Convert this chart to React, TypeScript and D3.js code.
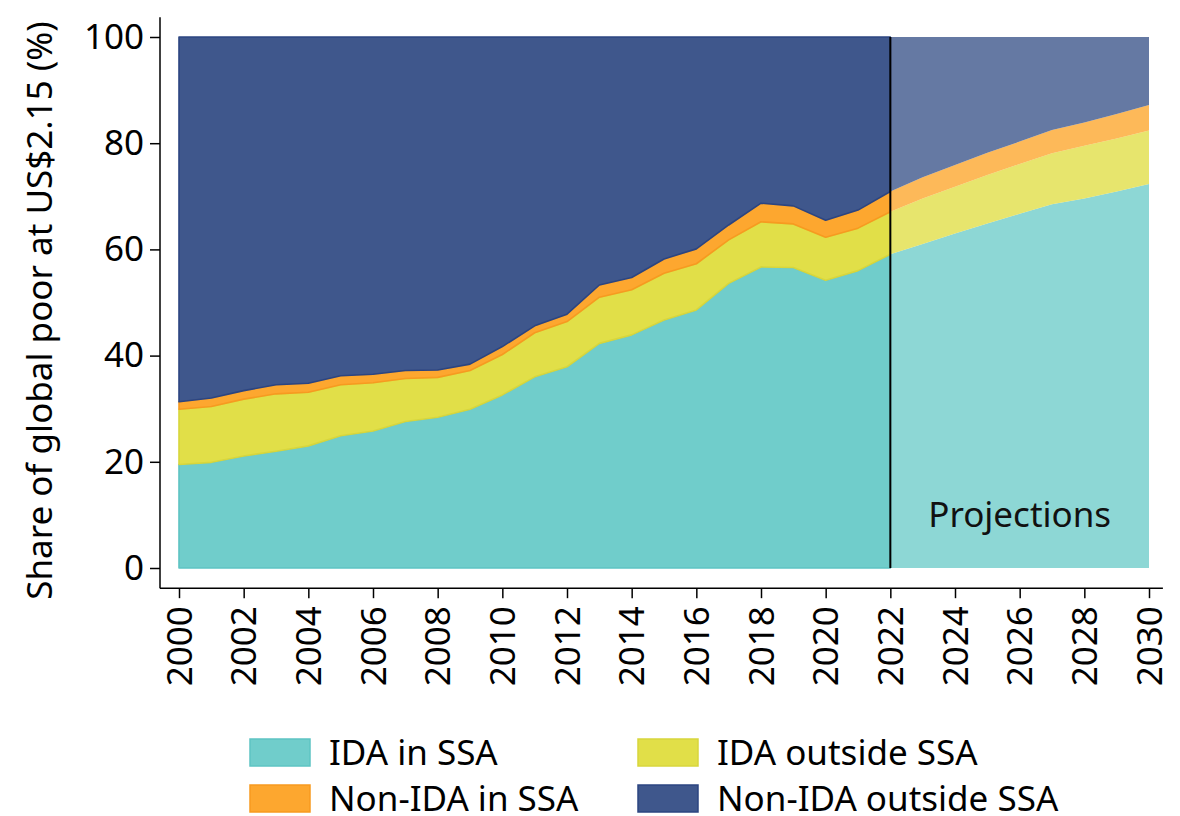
import { useEffect, useRef } from 'react'
import * as d3 from 'd3'

const WIDTH = 1180
const HEIGHT = 816
const FONT = '"Noto Sans", "Open Sans", sans-serif'
const FS = 35

const YEARS = d3.range(2000, 2031)
const LAST_ACTUAL = 2022

// shares of the global poor, %
const IDA_IN_SSA = [
  19.5, 19.9, 21.1, 22.0, 23.0, 24.9, 25.8, 27.6, 28.4, 29.9, 32.6,
  36.0, 37.9, 42.3, 43.9, 46.7, 48.6, 53.6, 56.7, 56.6, 54.2, 56.0,
  59.1, 61.0, 63.0, 64.9, 66.7, 68.5, 69.6, 70.9, 72.3,
]
const IDA_OUTSIDE_SSA = [
  10.4, 10.5, 10.7, 10.8, 10.1, 9.6, 9.1, 8.1, 7.5, 7.3, 7.6,
  8.3, 8.5, 8.7, 8.5, 8.8, 8.7, 8.2, 8.5, 8.2, 8.1, 8.0,
  8.0, 8.6, 8.8, 9.1, 9.4, 9.6, 9.9, 10.0, 10.1,
]
const NONIDA_IN_SSA = [
  1.4, 1.6, 1.6, 1.7, 1.7, 1.7, 1.6, 1.5, 1.4, 1.2, 1.5,
  1.3, 1.4, 2.3, 2.3, 2.7, 2.8, 2.8, 3.5, 3.4, 3.2, 3.4,
  3.8, 4.0, 4.1, 4.2, 4.2, 4.4, 4.4, 4.6, 4.8,
]
const NONIDA_OUTSIDE_SSA = [
  68.7, 68.0, 66.6, 65.5, 65.2, 63.8, 63.5, 62.8, 62.7, 61.6, 58.3,
  54.4, 52.2, 46.7, 45.3, 41.8, 39.9, 35.4, 31.3, 31.8, 34.5, 32.6,
  29.1, 26.4, 24.1, 21.8, 19.7, 17.5, 16.1, 14.5, 12.8,
]

const Y_TICKS = [0, 20, 40, 60, 80, 100]
const X_TICKS = d3.range(2000, 2031, 2)

const SERIES = [
  { key: 'idaIn', label: 'IDA in SSA', values: IDA_IN_SSA, color: '#70CDCB', edge: '#5EC4C3' },
  { key: 'idaOut', label: 'IDA outside SSA', values: IDA_OUTSIDE_SSA, color: '#E1DF48', edge: '#D8D63C' },
  { key: 'nonIn', label: 'Non-IDA in SSA', values: NONIDA_IN_SSA, color: '#FDA72F', edge: '#F79A20' },
  { key: 'nonOut', label: 'Non-IDA outside SSA', values: NONIDA_OUTSIDE_SSA, color: '#3F578C', edge: '#2C4581' },
]

type Row = { year: number } & Record<string, number>

export default function App() {
  const svgRef = useRef<SVGSVGElement>(null)

  useEffect(() => {
    const svg = d3.select(svgRef.current)
    svg.selectAll('*').remove()

    const x = d3.scaleLinear([2000, 2030], [179, 1149])
    const y = d3.scaleLinear([0, 100], [568, 37])

    const rows: Row[] = YEARS.map((year, i) => {
      const r: Row = { year } as Row
      SERIES.forEach(s => { r[s.key] = s.values[i] })
      return r
    })
    const stacked = d3.stack<Row>().keys(SERIES.map(s => s.key))(rows)

    const area = d3.area<d3.SeriesPoint<Row>>()
      .x(d => x(d.data.year))
      .y0(d => y(d[0]))
      .y1(d => y(d[1]))

    // ── Areas: history solid, projections faded ──────────────────────────────
    const gArea = svg.append('g')
    stacked.forEach((layer, i) => {
      const s = SERIES[i]
      const hist = layer.filter(d => d.data.year <= LAST_ACTUAL)
      const proj = layer.filter(d => d.data.year >= LAST_ACTUAL)
      gArea.append('path')
        .attr('d', area(proj))
        .attr('fill', s.color).attr('fill-opacity', 0.8)
      gArea.append('path')
        .attr('d', area(hist))
        .attr('fill', s.color)
        .attr('stroke', s.edge).attr('stroke-width', 1.6).attr('stroke-linejoin', 'round')
    })

    // divider at last observed year
    svg.append('line')
      .attr('x1', x(LAST_ACTUAL)).attr('x2', x(LAST_ACTUAL))
      .attr('y1', y(100)).attr('y2', y(0))
      .attr('stroke', '#000').attr('stroke-width', 2)

    svg.append('text')
      .attr('x', x(2026)).attr('y', y(0) - 41)
      .attr('text-anchor', 'middle')
      .attr('font-family', FONT).attr('font-size', FS).attr('fill', '#111')
      .text('Projections')

    // ── Axes ─────────────────────────────────────────────────────────────────
    const yAxis = svg.append('g')
      .attr('transform', 'translate(160,0)')
      .call(d3.axisLeft(y).tickValues(Y_TICKS).tickSize(10).tickPadding(6))
    yAxis.select('.domain').remove()
    yAxis.selectAll('.tick line').attr('stroke', '#000').attr('stroke-width', 1.5)
    yAxis.selectAll('text')
      .attr('font-family', FONT).attr('font-size', FS).attr('fill', '#000')
    yAxis.append('line')
      .attr('x1', 0).attr('x2', 0).attr('y1', y(103.7)).attr('y2', y(-3.8))
      .attr('stroke', '#000').attr('stroke-width', 1.5)

    const xAxis = svg.append('g')
      .attr('transform', `translate(0,${y(-3.8)})`)
      .call(d3.axisBottom(x).tickValues(X_TICKS).tickSize(10).tickFormat(d3.format('d')))
    xAxis.select('.domain').remove()
    xAxis.selectAll('.tick line').attr('stroke', '#000').attr('stroke-width', 1.5)
    xAxis.selectAll('text')
      .attr('font-family', FONT).attr('font-size', FS).attr('fill', '#000')
      .attr('transform', 'rotate(-90)')
      .attr('text-anchor', 'end')
      .attr('x', -18).attr('y', 0).attr('dy', '0.35em')
    xAxis.append('line')
      .attr('x1', x(1999.41)).attr('x2', x(2030.43)).attr('y1', 0).attr('y2', 0)
      .attr('stroke', '#000').attr('stroke-width', 1.5)

    svg.append('text')
      .attr('transform', `translate(52,${y(48.5)}) rotate(-90)`)
      .attr('text-anchor', 'middle')
      .attr('font-family', FONT).attr('font-size', FS).attr('fill', '#000')
      .text('Share of global poor at US$2.15 (%)')

    // ── Legend (2 x 2) ───────────────────────────────────────────────────────
    const legend = svg.append('g')
    SERIES.forEach((s, i) => {
      const col = i % 2
      const row = Math.floor(i / 2)
      const lx = col === 0 ? 250 : 638
      const ly = 739 + row * 46
      legend.append('rect')
        .attr('x', lx).attr('y', ly).attr('width', 60).attr('height', 27)
        .attr('fill', s.color).attr('stroke', s.edge).attr('stroke-width', 1.5)
      legend.append('text')
        .attr('x', lx + 79).attr('y', ly + 13.5).attr('dy', '0.35em')
        .attr('font-family', FONT).attr('font-size', FS).attr('fill', '#000')
        .text(s.label)
    })
  }, [])

  return (
    <div style={{ position: 'absolute', left: 0, top: 0 }}>
      <svg ref={svgRef} width={WIDTH} height={HEIGHT} style={{ display: 'block', background: '#fff' }} />
    </div>
  )
}
